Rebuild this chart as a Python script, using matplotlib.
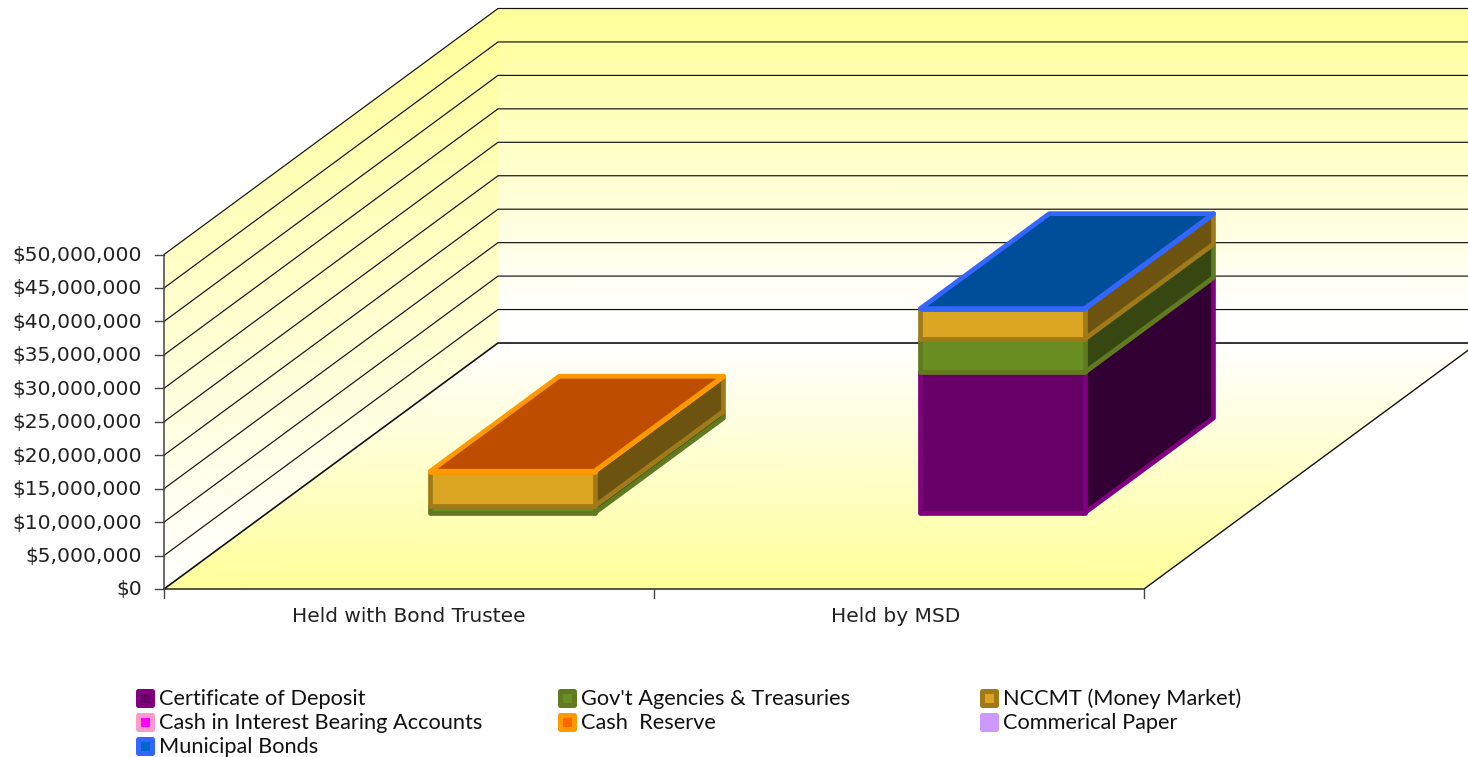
"""3D-look stacked column chart, drawn with a small oblique projection."""
import matplotlib
matplotlib.use("Agg")
import matplotlib.pyplot as plt
import numpy as np
from matplotlib.colors import LinearSegmentedColormap, to_rgb
from matplotlib.patches import Polygon, Rectangle

categories = ["Held with Bond Trustee", "Held by MSD"]
series_names = ["Certificate of Deposit", "Gov't Agencies & Treasuries", "NCCMT (Money Market)",
                "Cash in Interest Bearing Accounts", "Cash  Reserve", "Commerical Paper",
                "Municipal Bonds"]
cert_deposit = [0, 21000000]
gov_agencies = [1000000, 5000000]
nccmt = [5200000, 4500000]
cash_interest = [0, 0]
cash_reserve = [50000, 0]
commercial_paper = [0, 0]
municipal_bonds = [0, 50000]
series_values = [cert_deposit, gov_agencies, nccmt, cash_interest, cash_reserve,
                 commercial_paper, municipal_bonds]
face_colors = ["#660066", "#6B8E23", "#DAA520", "#FF00FF", "#FF6600", "#CC99FF", "#0066CC"]
edge_colors = ["#800080", "#5F7A1F", "#A07A18", "#FF99CC", "#FF9900", "#CC99FF", "#3366FF"]
y_ticks = np.arange(0, 50000001, 5000000)

# projection, in output pixels
X0, Y0 = 164, 589
CAT_W = 490
DEPTH_X, DEPTH_Y = 334, 246
PX_PER_UNIT = 33.45 / 5000000
BAR_L, BAR_R = 0.333, 0.668
DEPTH_F, DEPTH_B = 0.309, 0.695
EDGE_LW = 3.4
LABEL_NUDGE = [0, -3]


def proj(cat, val, depth):
    return X0 + cat * CAT_W + depth * DEPTH_X, Y0 - val * PX_PER_UNIT - depth * DEPTH_Y


def shade(color, k):
    return tuple(c * k for c in to_rgb(color))


def gradient(ax, corners, levels, cmap):
    # corners: rows of (x, y) pixels going up the face, levels same shape
    xs = np.array([[p[0] for p in row] for row in corners], dtype=float)
    ys = np.array([[p[1] for p in row] for row in corners], dtype=float)
    ax.pcolormesh(xs, ys, np.array(levels, dtype=float), shading="gouraud", cmap=cmap,
                  vmin=0, vmax=1, zorder=1)


def draw_segment(ax, cat, v0, v1, face, edge, zorder):
    l, r = cat + BAR_L, cat + BAR_R
    side = [proj(r, v0, DEPTH_F), proj(r, v0, DEPTH_B), proj(r, v1, DEPTH_B), proj(r, v1, DEPTH_F)]
    front = [proj(l, v0, DEPTH_F), proj(r, v0, DEPTH_F), proj(r, v1, DEPTH_F), proj(l, v1, DEPTH_F)]
    kw = dict(edgecolor=edge, linewidth=EDGE_LW, joinstyle="round", zorder=zorder)
    ax.add_patch(Polygon(side, facecolor=shade(face, 0.5), **kw))
    ax.add_patch(Polygon(front, facecolor=face, **kw))


def draw_top(ax, cat, v, face, edge, zorder):
    l, r = cat + BAR_L, cat + BAR_R
    top = [proj(l, v, DEPTH_F), proj(r, v, DEPTH_F), proj(r, v, DEPTH_B), proj(l, v, DEPTH_B)]
    ax.add_patch(Polygon(top, facecolor=shade(face, 0.75), edgecolor=edge, linewidth=EDGE_LW,
                         joinstyle="round", zorder=zorder))


fig = plt.figure(figsize=(14.68, 7.57), dpi=100)
ax = fig.add_axes([0, 0, 1, 1])
ax.set_xlim(0, 1468)
ax.set_ylim(757, 0)
ax.axis("off")

wall_cmap = LinearSegmentedColormap.from_list("wall", ["#FFFFFF", "#FFFF99"])
vmax = y_ticks[-1]
v1 = y_ticks[1]

# back wall fades out just above the floor
gradient(ax, [[proj(0, 0, 1), proj(2, 0, 1)], [proj(0, v1, 1), proj(2, v1, 1)],
              [proj(0, vmax, 1), proj(2, vmax, 1)]],
         [[0, 0], [0.02, 0.02], [1, 1]], wall_cmap)
# side wall shading follows screen height
gradient(ax, [[proj(0, 0, 0), proj(0, 0, 1)], [proj(0, vmax, 0), proj(0, vmax, 1)]],
         [[0, 0.42], [0.58, 1]], wall_cmap)
# floor
gradient(ax, [[proj(0, 0, 0), proj(2, 0, 0)], [proj(0, 0, 1), proj(2, 0, 1)]],
         [[1, 1], [0, 0]], wall_cmap)

# gridlines run along the side wall and then the back wall
for v in y_ticks:
    pts = [proj(0, v, 0), proj(0, v, 1), proj(2, v, 1)]
    ax.plot(*zip(*pts), color="#111111", lw=1.2 if v == 0 else 0.85, zorder=2)
    x, y = proj(0, v, 0)
    ax.plot([x - 9, x], [y, y], color="#444444", lw=1, zorder=2)
    ax.text(x - 22, y + 1, f"${v:,.0f}", ha="right", va="center", fontsize=14.6,
            color="#222222", family="DejaVu Sans")

# floor outline and axis lines
ax.plot(*zip(proj(0, 0, 0), proj(2, 0, 0), proj(2, 0, 1)), color="#111111", lw=1, zorder=2)
ax.plot(*zip(proj(0, 0, 0), proj(0, vmax, 0)), color="#444444", lw=1.1, zorder=2)
for c in range(3):
    x, y = proj(c, 0, 0)
    ax.plot([x, x], [y, y + 9], color="#444444", lw=1, zorder=2)
for c, name in enumerate(categories):
    x, y = proj(c + 0.5, 0, 0)
    ax.text(x + LABEL_NUDGE[c], y + 27, name, ha="center", va="center", fontsize=14.5, color="#222222",
            family="DejaVu Sans")

# stacked columns, bottom to top
for c in range(len(categories)):
    base = 0
    z = 3
    top_idx = None
    for i, vals in enumerate(series_values):
        if vals[c] <= 0:
            continue
        draw_segment(ax, c, base, base + vals[c], face_colors[i], edge_colors[i], z)
        base += vals[c]
        top_idx = i
        z += 1
    draw_top(ax, c, base, face_colors[top_idx], edge_colors[top_idx], z)

# legend laid out in three columns
legend_x = [136, 558, 980]
legend_y = [698, 722, 746]
for i, name in enumerate(series_names):
    lx, ly = legend_x[i % 3], legend_y[i // 3]
    ax.add_patch(Rectangle((lx + 2, ly - 7), 14, 14, facecolor=face_colors[i], edgecolor=edge_colors[i],
                           linewidth=3.6, joinstyle="round", zorder=5))
    ax.text(lx + 23, ly + 1, name, ha="left", va="center", fontsize=15.7, color="#111111",
            family="Lato")

fig.savefig("out.png", dpi=100)
